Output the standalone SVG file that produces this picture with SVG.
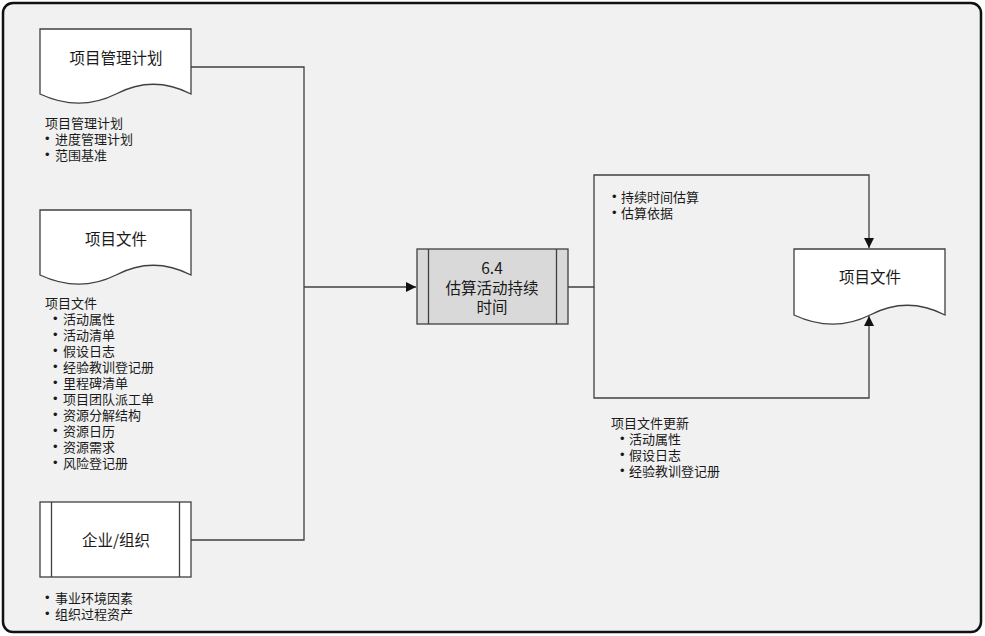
<svg xmlns="http://www.w3.org/2000/svg" width="985" height="636" viewBox="0 0 985 636">
<defs>
<style>
text{font-family:"Microsoft YaHei","Noto Sans CJK SC","Noto Sans",sans-serif;fill:#1a1a1a;dominant-baseline:central}
.t{font-size:15.5px;text-anchor:middle}
.s{font-size:13px}
.b{font-family:"Liberation Sans",Arial,sans-serif}
.box{fill:#fff;stroke:#404040;stroke-width:1.3}
.ln{fill:none;stroke:#404040;stroke-width:1.3}
</style>
<marker id="ah" viewBox="0 0 10 10" refX="10" refY="5" markerWidth="10" markerHeight="10" markerUnits="userSpaceOnUse" orient="auto">
<path d="M0,0 L10,5 L0,10 Z" fill="#111"/>
</marker>
</defs>
<rect x="0" y="0" width="985" height="636" fill="#fff"/>
<rect x="3" y="3" width="978" height="629" rx="10" fill="#f1f1f1" stroke="#111" stroke-width="2.5"/>

<g id="connectors">
<path class="ln" d="M191,67 H304 V540 H191"/>
<path class="ln" d="M304,287 H416" marker-end="url(#ah)"/>
<path class="ln" d="M568,287 H594 V175 H869 V248" marker-end="url(#ah)"/>
<path class="ln" d="M594,287 V398 H869 V316" marker-end="url(#ah)"/>
</g>

<g id="doc-pmp">
<path class="box" transform="translate(40,29)" d="M0,0 H151 V65 C120,49 95,55 76,65 C56,75 30,79 0,65 Z"/>
<text class="t" x="116" y="57">项目管理计划</text>
<text class="s"><tspan x="45" y="122">项目管理计划</tspan><tspan class="b" x="45" y="138">•</tspan><tspan x="55" y="138">进度管理计划</tspan><tspan class="b" x="45" y="154">•</tspan><tspan x="55" y="154">范围基准</tspan></text>
</g>

<g id="doc-files">
<path class="box" transform="translate(40,210)" d="M0,0 H151 V65 C120,49 95,55 76,65 C56,75 30,79 0,65 Z"/>
<text class="t" x="116" y="238">项目文件</text>
<text class="s"><tspan x="45" y="302">项目文件</tspan><tspan class="b" x="53" y="318">•</tspan><tspan x="63" y="318">活动属性</tspan><tspan class="b" x="53" y="334">•</tspan><tspan x="63" y="334">活动清单</tspan><tspan class="b" x="53" y="350">•</tspan><tspan x="63" y="350">假设日志</tspan><tspan class="b" x="53" y="366">•</tspan><tspan x="63" y="366">经验教训登记册</tspan><tspan class="b" x="53" y="382">•</tspan><tspan x="63" y="382">里程碑清单</tspan><tspan class="b" x="53" y="398">•</tspan><tspan x="63" y="398">项目团队派工单</tspan><tspan class="b" x="53" y="414">•</tspan><tspan x="63" y="414">资源分解结构</tspan><tspan class="b" x="53" y="430">•</tspan><tspan x="63" y="430">资源日历</tspan><tspan class="b" x="53" y="446">•</tspan><tspan x="63" y="446">资源需求</tspan><tspan class="b" x="53" y="462">•</tspan><tspan x="63" y="462">风险登记册</tspan></text>
</g>

<g id="enterprise">
<rect class="box" x="40" y="502" width="151" height="75"/>
<line class="ln" x1="51.5" y1="502" x2="51.5" y2="577"/>
<line class="ln" x1="179.5" y1="502" x2="179.5" y2="577"/>
<text class="t" x="116" y="539">企业/组织</text>
<text class="s"><tspan class="b" x="45" y="597">•</tspan><tspan x="55" y="597">事业环境因素</tspan><tspan class="b" x="45" y="613">•</tspan><tspan x="55" y="613">组织过程资产</tspan></text>
</g>

<g id="process">
<rect x="417" y="249" width="151" height="75" fill="#d9d9d9" stroke="#404040" stroke-width="1.3"/>
<line class="ln" x1="428.5" y1="249" x2="428.5" y2="324"/>
<line class="ln" x1="556.5" y1="249" x2="556.5" y2="324"/>
<text class="t"><tspan x="492" y="267">6.4</tspan><tspan x="492" y="287">估算活动持续</tspan><tspan x="492" y="306">时间</tspan></text>
</g>

<g id="outputs-label">
<text class="s"><tspan class="b" x="612" y="196">•</tspan><tspan x="621" y="196">持续时间估算</tspan><tspan class="b" x="612" y="212">•</tspan><tspan x="621" y="212">估算依据</tspan></text>
</g>

<g id="doc-files-out">
<path class="box" transform="translate(794,249)" d="M0,0 H151 V66 C120,50 95,56 76,66 C56,76 30,80 0,66 Z"/>
<text class="t" x="870" y="276">项目文件</text>
</g>

<g id="updates-label">
<text class="s"><tspan x="611" y="422">项目文件更新</tspan><tspan class="b" x="620" y="438">•</tspan><tspan x="629" y="438">活动属性</tspan><tspan class="b" x="620" y="454">•</tspan><tspan x="629" y="454">假设日志</tspan><tspan class="b" x="620" y="470">•</tspan><tspan x="629" y="470">经验教训登记册</tspan></text>
</g>
</svg>
